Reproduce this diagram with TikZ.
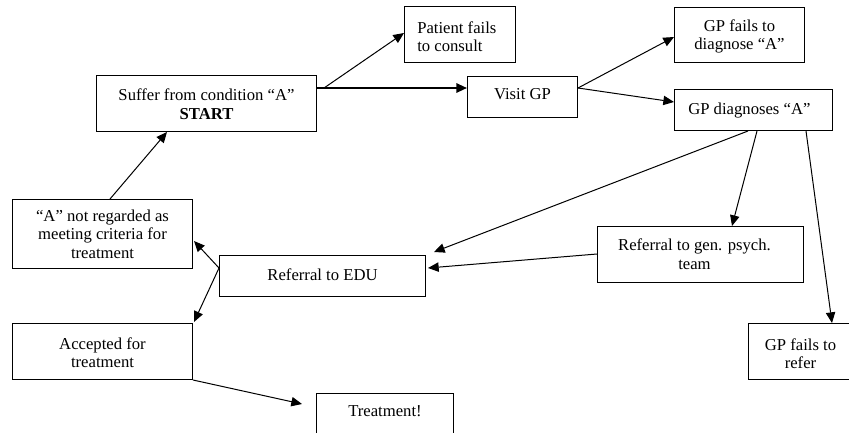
\documentclass[tikz,border=0pt]{standalone}
\usepackage{fontspec}
\setmainfont{Liberation Serif}
\usetikzlibrary{arrows.meta,positioning,calc}
\tikzset{
  box/.style={
    draw,
    line width=0.75pt,
    anchor=north west,
    inner sep=0pt
  },
  box text/.style={
    inner sep=0pt,
    align=center,
    font=\fontsize{12.5pt}{13.8pt}\selectfont
  },
  flow/.style={
    line width=0.75pt,
    -{Triangle[length=8pt,width=7pt]}
  },
  main flow/.style={
    flow,
    line width=1.5pt
  }
}

\begin{document}
\begin{tikzpicture}[x=0.75pt, y=-0.75pt]
   \useasboundingbox (0,0) rectangle (849,432);

   \node[box, minimum width=165pt, minimum height=42pt,
         label={[box text, below=10.3pt]north:{Suffer from condition “A”\\\textbf{START}}}] (suffer) at (96,75) {};
   \node[box, minimum width=83.25pt, minimum height=42pt,
         label={[box text, align=left, below right=11.5pt and 9.75pt]north west:{Patient fails\\to consult}}] (patient) at (404,6) {};
   \node[box, minimum width=82.5pt, minimum height=30.75pt,
         label={[box text, below=9.5pt]north:Visit GP}] (visit) at (467,76) {};
   \node[box, minimum width=97.5pt, minimum height=41.25pt,
         label={[box text, below=9pt]north:{GP fails to\\diagnose “A”}}] (faildiag) at (674,7) {};
   \node[box, minimum width=118.5pt, minimum height=30.75pt,
         label={[box text, align=left, below right=10pt and 10.5pt]north west:{GP diagnoses “A”}}] (diag) at (674,89) {};
   \node[box, minimum width=135pt, minimum height=51.75pt,
         label={[box text, below=8pt]north:{“A” not regarded as\\meeting criteria for\\treatment}}] (notreg) at (12,199) {};
   \node[box, minimum width=154.5pt, minimum height=30.75pt,
         label={[box text, below=10pt]north:Referral to EDU}] (edu) at (219,255) {};
   \node[box, minimum width=154.5pt, minimum height=42pt,
         label={[box text, below=9.5pt, xshift=-4.5pt]north:{Referral to gen. psych.\\team}}] (gen) at (597,226) {};
   \node[box, minimum width=78pt, minimum height=42pt,
         label={[box text, below=11.5pt]north:{GP fails to\\refer}}] (refer) at (748,323) {};
   \node[box, minimum width=135pt, minimum height=42pt,
         label={[box text, below=10.5pt]north:{Accepted for\\treatment}}] (acc) at (12,323) {};
   \node[box, minimum width=102.75pt, minimum height=42pt,
         label={[box text, below=9pt]north:Treatment!}] (treat) at (316,393) {};

   \draw[main flow] ($(suffer.north east)+(0,13)$) -- ($(visit.north west)+(0,12)$);
   \draw[flow] ($(suffer.north east)+(7,13)$) -- ($(patient.north west)+(0,27)$);
   \draw[flow] ($(visit.north east)+(0,12)$) -- ($(faildiag.north west)+(0,30)$);
   \draw[flow] ($(visit.north east)+(0,12)$) -- ($(diag.north west)+(0,13)$);
   \draw[flow] ($(diag.south west)+(74,0)$) -- ($(edu.north east)+(8,-3)$);
   \draw[flow] ($(diag.south west)+(83,0)$) -- ($(gen.north west)+(135,0)$);
   \draw[flow] ($(diag.south west)+(132,0)$) -- ($(refer.north west)+(84,0)$);
   \draw[flow] ($(gen.north west)+(0,28)$) -- ($(edu.north east)+(2,13)$);
   \draw[flow] ($(edu.north west)+(0,13)$) -- ($(notreg.north east)+(1,42)$);
   \draw[flow] ($(edu.north west)+(0,13)$) -- ($(acc.north east)+(1,-1)$);
   \draw[flow] (acc.south east) -- ($(treat.north west)+(-14,11)$);
   \draw[flow] ($(notreg.north west)+(98,0)$) -- ($(suffer.south west)+(71,0)$);
\end{tikzpicture}
\end{document}
